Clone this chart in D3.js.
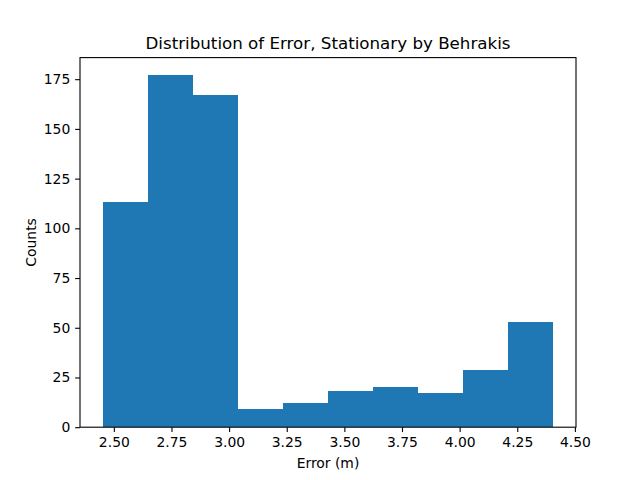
<!DOCTYPE html>
<meta charset="utf-8">
<html>
  <head>
    <script src="https://d3js.org/d3.v7.min.js"></script>
    <style>
      body { margin: 0; background: #fff; }
      text { font-family: "DejaVu Sans", sans-serif; fill: #000; }
    </style>
  </head>
  <body>
    <div id="chart"></div>

    <script type="text/javascript">
      // histogram bins (edges) and counts
      var binStart = 2.451,
          binEnd = 4.407,
          counts = [113, 177, 167, 9, 12, 18, 20, 17, 29, 53],
          xTicks = [2.50, 2.75, 3.00, 3.25, 3.50, 3.75, 4.00, 4.25, 4.50],
          yTicks = [0, 25, 50, 75, 100, 125, 150, 175];

      var W = 640, H = 480,
          margin = { top: 57.6, right: 64, bottom: 52.8, left: 80 },
          width = W - margin.left - margin.right,
          height = H - margin.top - margin.bottom,
          color = "#1f77b4";

      var binW = (binEnd - binStart) / counts.length;
      var bins = counts.map(function(c, i) {
        return { x0: binStart + i * binW, x1: binStart + (i + 1) * binW, count: c };
      });

      var pad = 0.05 * (binEnd - binStart);
      var x = d3.scaleLinear()
          .domain([binStart - pad, binEnd + pad])
          .range([0, width]);
      var y = d3.scaleLinear()
          .domain([0, d3.max(counts) * 1.05])
          .range([height, 0]);

      var svg = d3.select("#chart").append("svg")
          .attr("width", W)
          .attr("height", H)
          .append("g")
          .attr("transform", "translate(" + margin.left + "," + margin.top + ")");

      svg.selectAll(".bar")
          .data(bins)
          .enter().append("rect")
          .attr("x", function(d) { return x(d.x0); })
          .attr("width", function(d) { return x(d.x1) - x(d.x0); })
          .attr("y", function(d) { return y(d.count); })
          .attr("height", function(d) { return height - y(d.count); })
          .attr("shape-rendering", "crispEdges")
          .style("fill", color);

      var tickLen = 4.86, tickPad = 4.86, fs = "13.9px";

      var xAxis = svg.append("g")
          .attr("transform", "translate(0," + height + ")")
          .call(d3.axisBottom(x).tickValues(xTicks).tickFormat(d3.format(".2f"))
                .tickSize(tickLen).tickPadding(tickPad).tickSizeOuter(0));
      var yAxis = svg.append("g")
          .call(d3.axisLeft(y).tickValues(yTicks).tickFormat(d3.format("d"))
                .tickSize(tickLen).tickPadding(tickPad).tickSizeOuter(0));

      [xAxis, yAxis].forEach(function(a) {
        a.select(".domain").remove();
        a.selectAll("line").style("stroke", "#000").style("stroke-width", "1.1px");
        a.selectAll("text").style("font-size", fs).style("font-family", "DejaVu Sans").style("fill", "#000");
      });

      // spines
      svg.append("rect")
          .attr("x", 0).attr("y", 0)
          .attr("width", width).attr("height", height)
          .style("fill", "none")
          .style("stroke", "#000")
          .style("stroke-width", "1.1px");

      svg.append("text")
          .attr("x", width / 2)
          .attr("y", -8.3)
          .style("text-anchor", "middle")
          .style("font-size", "16.7px")
          .text("Distribution of Error, Stationary by Behrakis");

      svg.append("text")
          .attr("x", width / 2)
          .attr("y", height + 41)
          .style("text-anchor", "middle")
          .style("font-size", fs)
          .text("Error (m)");

      svg.append("text")
          .attr("transform", "translate(" + (-44) + "," + (height / 2) + ") rotate(-90)")
          .style("text-anchor", "middle")
          .style("font-size", fs)
          .text("Counts");
    </script>
  </body>
</html>
